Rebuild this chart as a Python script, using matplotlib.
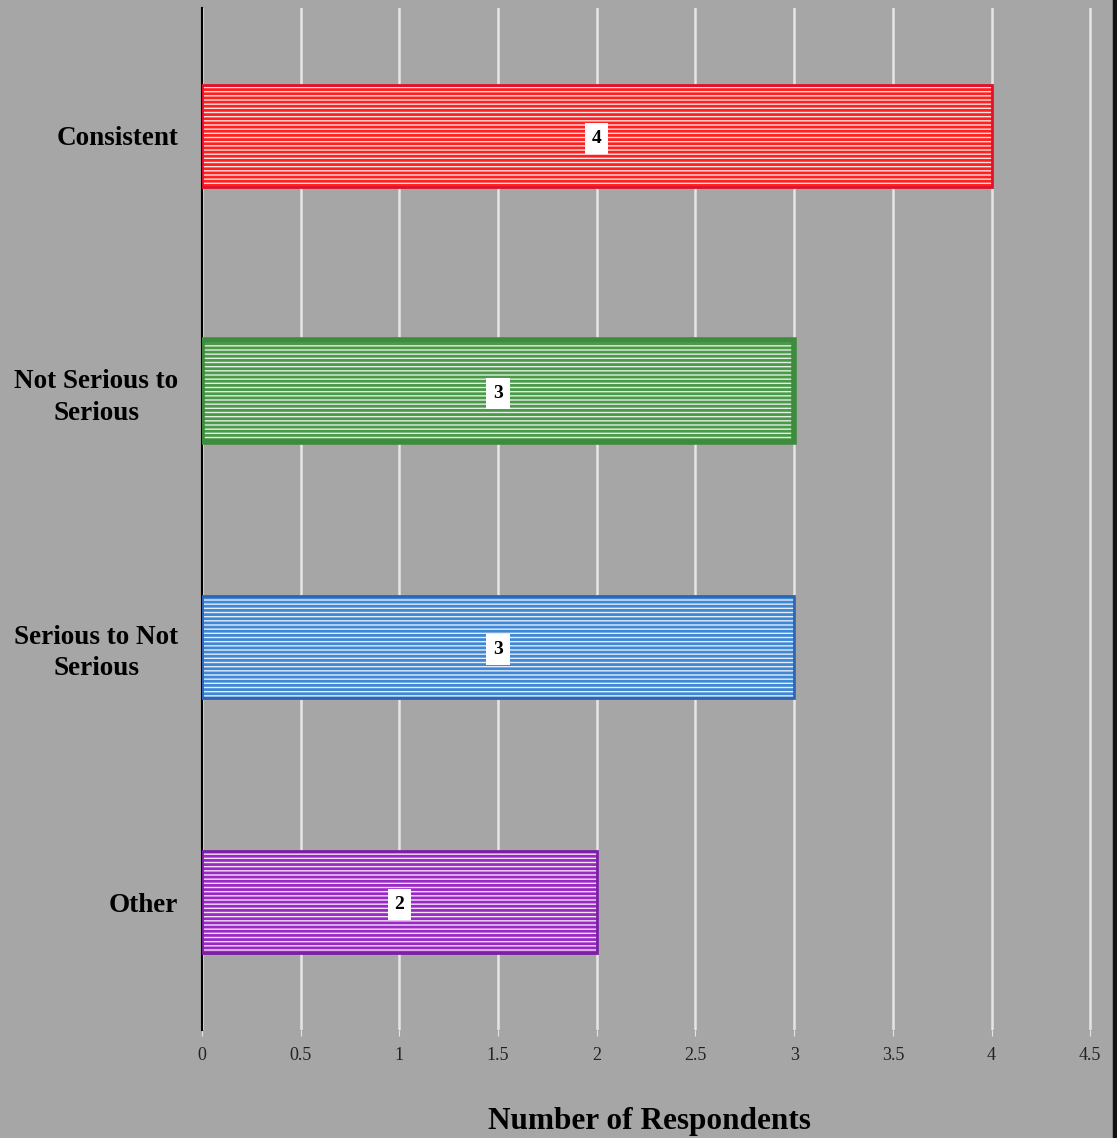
import matplotlib
matplotlib.use("Agg")
import matplotlib.pyplot as plt
from matplotlib.lines import Line2D

categories = ["Consistent", "Not Serious to\nSerious", "Serious to Not\nSerious", "Other"]
values = [4, 3, 3, 2]
xticks = [0, 0.5, 1, 1.5, 2, 2.5, 3, 3.5, 4, 4.5]
xtick_labels = ["0", "0.5", "1", "1.5", "2", "2.5", "3", "3.5", "4", "4.5"]

edge_colors = ["#e0102a", "#3d8b3d", "#2f63b5", "#7b1fa2"]
stripe_colors = ["#ff2020", "#4a9a4a", "#3f88d6", "#9a28c4"]
fill_colors = ["#ffe4e6", "#e4f0e4", "#e4eefa", "#f2e2f8"]
edge_widths = [2, 4, 2, 2]

plt.rcParams["hatch.linewidth"] = 2.0
plt.rcParams["font.family"] = ["Liberation Serif", "DejaVu Serif"]

bg = "#a6a6a6"
fig = plt.figure(figsize=(11.17, 11.38), dpi=100, facecolor=bg)
ax = fig.add_axes([202 / 1117, 1 - 1030 / 1138, (1112 - 202) / 1117, (1030 - 8) / 1138])
ax.set_facecolor(bg)

ypos = list(range(len(categories)))
for y, v, fc, sc, ec, lw in zip(ypos, values, fill_colors, stripe_colors, edge_colors, edge_widths):
    ax.barh(y, v, height=0.4, color=fc, edgecolor=sc, hatch="----", linewidth=0, zorder=3)
    ax.barh(y, v, height=0.4, color="none", edgecolor=ec, linewidth=lw, zorder=4)
    ax.text(v / 2, y + 0.01, str(v), ha="center", va="center", fontsize=14, fontweight="bold",
            color="black", zorder=5,
            bbox=dict(boxstyle="square,pad=0.35", facecolor="white", edgecolor="none"))

ax.set_xlim(0, 4.61)
ax.set_ylim(3.5, -0.5)
ax.set_xticks(xticks)
ax.set_xticklabels(xtick_labels, fontsize=13, color="#222222")
ax.set_yticks(ypos)
ax.set_yticklabels(categories, fontsize=19.5, fontweight="bold", multialignment="center",
                   linespacing=1.35)
ax.tick_params(axis="y", length=0, pad=17)
ax.tick_params(axis="x", length=4, color="#e6e6e6", pad=8)
ax.grid(axis="x", color="#e6e6e6", linewidth=1.8, zorder=0)
ax.set_axisbelow(True)
for s in ["top", "bottom", "right"]:
    ax.spines[s].set_visible(False)
ax.spines["left"].set_color("black")
ax.spines["left"].set_linewidth(1.5)
ax.set_xlabel("Number of Respondents", fontsize=22.5, fontweight="bold", labelpad=32)
ax.xaxis.set_label_coords(0.492, -0.075)

fig.add_artist(Line2D([1115 / 1117, 1115 / 1117], [0, 1], transform=fig.transFigure,
                      color="#111111", linewidth=3.2))

fig.savefig("out.png", dpi=100, facecolor=bg)
